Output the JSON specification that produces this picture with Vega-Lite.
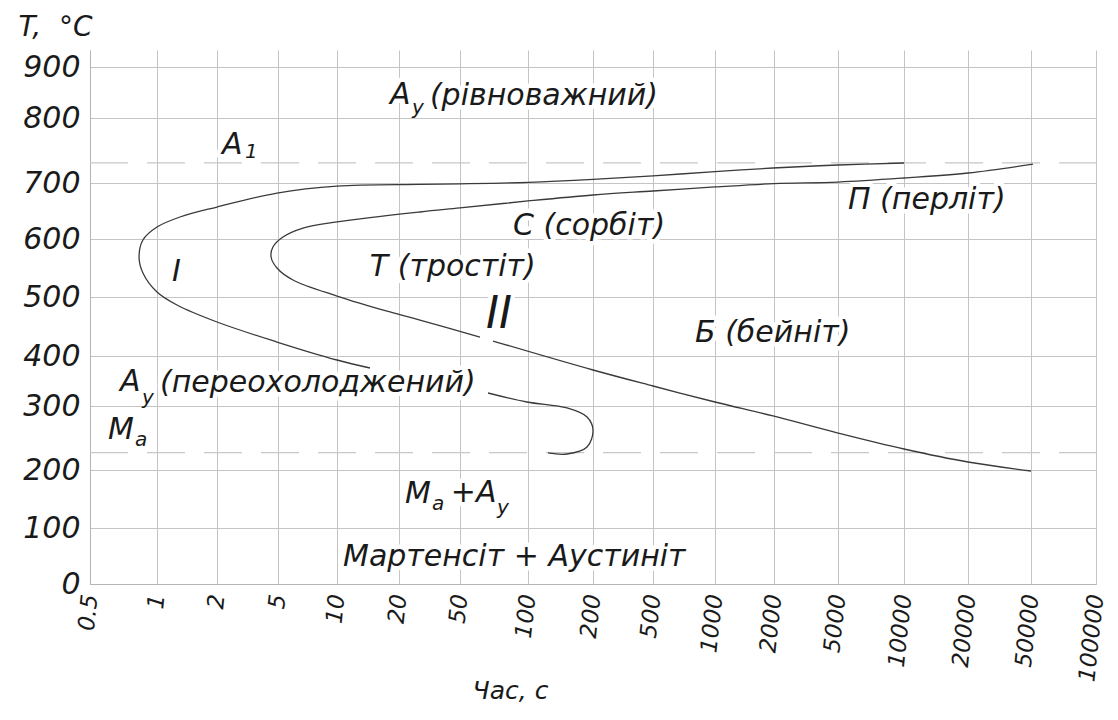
{
  "$schema": "https://vega.github.io/schema/vega-lite/v6.json",
  "width": 1006,
  "height": 534,
  "autosize": {"type": "none"},
  "padding": {"left": 90, "top": 50, "right": 22, "bottom": 136},
  "background": "#ffffff",
  "config": {
    "view": {"stroke": null},
    "font": "'DejaVu Sans', sans-serif",
    "axis": {
      "grid": true,
      "gridColor": "#c4c4c4",
      "gridWidth": 1,
      "domainColor": "#b4b4b4",
      "ticks": false,
      "labelColor": "#1a1a1a",
      "titleColor": "#1a1a1a",
      "labelFont": "'DejaVu Sans', sans-serif",
      "titleFont": "'DejaVu Sans', sans-serif",
      "labelFontStyle": "italic",
      "titleFontStyle": "italic",
      "labelFontWeight": "normal",
      "titleFontWeight": "normal"
    }
  },
  "datasets": {
    "levels": [
      {"name": "A1", "t": 0.5, "T": 731},
      {"name": "A1", "t": 100000, "T": 731},
      {"name": "Ms", "t": 0.5, "T": 227},
      {"name": "Ms", "t": 100000, "T": 227}
    ],
    "curves": [
      {"seg": "Ia", "i": 1, "t": 10000, "T": 730.8},
      {"seg": "Ia", "i": 2, "t": 5000, "T": 727.7},
      {"seg": "Ia", "i": 3, "t": 1983, "T": 723.1},
      {"seg": "Ia", "i": 4, "t": 1000, "T": 717.5},
      {"seg": "Ia", "i": 5, "t": 500, "T": 711},
      {"seg": "Ia", "i": 6, "t": 200, "T": 705.5},
      {"seg": "Ia", "i": 7, "t": 100, "T": 701},
      {"seg": "Ia", "i": 8, "t": 50, "T": 698.5},
      {"seg": "Ia", "i": 9, "t": 30.3, "T": 697.5},
      {"seg": "Ia", "i": 10, "t": 10, "T": 694.6},
      {"seg": "Ia", "i": 11, "t": 4.95, "T": 682.1},
      {"seg": "Ia", "i": 12, "t": 2, "T": 657.1},
      {"seg": "Ia", "i": 13, "t": 1.383, "T": 639.3},
      {"seg": "Ia", "i": 14, "t": 1, "T": 621.4},
      {"seg": "Ia", "i": 15, "t": 0.895, "T": 598.3},
      {"seg": "Ia", "i": 16, "t": 0.866, "T": 569},
      {"seg": "Ia", "i": 17, "t": 0.895, "T": 541.4},
      {"seg": "Ia", "i": 18, "t": 1, "T": 508.6},
      {"seg": "Ia", "i": 19, "t": 1.333, "T": 486.4},
      {"seg": "Ia", "i": 20, "t": 2, "T": 457.6},
      {"seg": "Ia", "i": 21, "t": 4.95, "T": 423.7},
      {"seg": "Ia", "i": 22, "t": 10, "T": 392},
      {"seg": "Ia", "i": 23, "t": 15.32, "T": 376},
      {"seg": "Ib", "i": 24, "t": 70.6, "T": 326},
      {"seg": "Ib", "i": 25, "t": 99.2, "T": 308},
      {"seg": "Ib", "i": 26, "t": 160, "T": 296.9},
      {"seg": "Ib", "i": 27, "t": 190.8, "T": 282.8},
      {"seg": "Ib", "i": 28, "t": 200, "T": 262.5},
      {"seg": "Ib", "i": 29, "t": 190.8, "T": 235.9},
      {"seg": "Ib", "i": 30, "t": 160, "T": 225},
      {"seg": "Ib", "i": 31, "t": 130.8, "T": 226.6},
      {"seg": "IIa", "i": 1, "t": 51538, "T": 729.2},
      {"seg": "IIa", "i": 2, "t": 20000, "T": 715.4},
      {"seg": "IIa", "i": 3, "t": 10000, "T": 707.7},
      {"seg": "IIa", "i": 4, "t": 5000, "T": 701.5},
      {"seg": "IIa", "i": 5, "t": 2000, "T": 699},
      {"seg": "IIa", "i": 6, "t": 1000, "T": 692.9},
      {"seg": "IIa", "i": 7, "t": 500, "T": 685.7},
      {"seg": "IIa", "i": 8, "t": 200, "T": 678.6},
      {"seg": "IIa", "i": 9, "t": 100, "T": 667.9},
      {"seg": "IIa", "i": 10, "t": 50, "T": 655.4},
      {"seg": "IIa", "i": 11, "t": 30.3, "T": 648.2},
      {"seg": "IIa", "i": 12, "t": 10, "T": 630.4},
      {"seg": "IIa", "i": 13, "t": 7.12, "T": 619.6},
      {"seg": "IIa", "i": 14, "t": 5.42, "T": 603.6},
      {"seg": "IIa", "i": 15, "t": 4.75, "T": 586.2},
      {"seg": "IIa", "i": 16, "t": 4.66, "T": 569},
      {"seg": "IIa", "i": 17, "t": 4.95, "T": 550},
      {"seg": "IIa", "i": 18, "t": 6.27, "T": 529.3},
      {"seg": "IIa", "i": 19, "t": 10, "T": 501.7},
      {"seg": "IIa", "i": 20, "t": 18.55, "T": 474.6},
      {"seg": "IIa", "i": 21, "t": 30.3, "T": 461},
      {"seg": "IIa", "i": 22, "t": 64.7, "T": 432.2},
      {"seg": "IIb", "i": 23, "t": 74.3, "T": 425.4},
      {"seg": "IIb", "i": 24, "t": 200, "T": 372},
      {"seg": "IIb", "i": 25, "t": 500, "T": 340},
      {"seg": "IIb", "i": 26, "t": 1000, "T": 308},
      {"seg": "IIb", "i": 27, "t": 1983, "T": 284.4},
      {"seg": "IIb", "i": 28, "t": 5000, "T": 257.8},
      {"seg": "IIb", "i": 29, "t": 10000, "T": 232.8},
      {"seg": "IIb", "i": 30, "t": 20000, "T": 212.5},
      {"seg": "IIb", "i": 31, "t": 50000, "T": 198.3}
    ],
    "labels": [
      {"txt": "А", "t": 18.55, "T": 845},
      {"txt": "(рівноважний)", "t": 35.2, "T": 843},
      {"txt": "А", "t": 2.25, "T": 758},
      {"txt": "I", "t": 1.25, "T": 543},
      {"txt": "Т (тростіт)", "t": 15.3, "T": 552},
      {"txt": "С (сорбіт)", "t": 89, "T": 623},
      {"txt": "П (перліт)", "t": 5758, "T": 670},
      {"txt": "Б (бейніт)", "t": 839, "T": 439},
      {"txt": "А", "t": 0.724, "T": 348},
      {"txt": "(переохолоджений)", "t": 1.05, "T": 346},
      {"txt": "М", "t": 0.634, "T": 262},
      {"txt": "М", "t": 22.95, "T": 159},
      {"txt": "+А", "t": 45.5, "T": 160},
      {"txt": "Мартенсіт + Аустиніт", "t": 10.97, "T": 48}
    ],
    "subs": [
      {"txt": "у", "t": 26.4, "T": 820},
      {"txt": "1", "t": 3.38, "T": 748},
      {"txt": "у", "t": 0.888, "T": 316},
      {"txt": "а", "t": 0.836, "T": 247},
      {"txt": "а", "t": 36.2, "T": 141},
      {"txt": "у", "t": 77.2, "T": 134}
    ],
    "zones": [
      {"txt": "II", "t": 78.7, "T": 470}
    ]
  },
  "encoding": {
    "x": {
      "field": "t",
      "type": "quantitative",
      "scale": {
        "type": "linear",
        "domain": [0.5, 1, 2, 5, 10, 20, 50, 100, 200, 500, 1000, 2000, 5000, 10000, 20000, 50000, 100000],
        "range": [0, 67, 127, 188, 247, 309, 370, 438, 503, 563, 625, 684, 748, 814, 878, 941, 1006],
        "nice": false,
        "zero": false
      },
      "axis": {
        "values": [0.5, 1, 2, 5, 10, 20, 50, 100, 200, 500, 1000, 2000, 5000, 10000, 20000, 50000, 100000],
        "labelExpr": "'' + datum.value",
        "labelAngle": -84,
        "labelAlign": "right",
        "labelBaseline": "middle",
        "labelFontSize": 23,
        "labelPadding": 10,
        "labelOverlap": false,
        "labelFlush": false,
        "labelBound": false,
        "title": "Час, с",
        "titleFontSize": 25,
        "titleX": 420,
        "titleY": 106,
        "titleAlign": "center",
        "titleBaseline": "middle",
        "titleAngle": 0
      }
    },
    "y": {
      "field": "T",
      "type": "quantitative",
      "scale": {
        "type": "linear",
        "domain": [0, 100, 200, 300, 400, 500, 600, 700, 800, 900, 930],
        "range": [534, 478, 420, 356, 306, 247, 189, 133, 68, 17, 0],
        "nice": false,
        "zero": false
      },
      "axis": {
        "values": [0, 100, 200, 300, 400, 500, 600, 700, 800, 900],
        "labelFontSize": 30,
        "labelPadding": 10,
        "labelOverlap": false,
        "labelFlush": false,
        "labelBound": false,
        "title": "T,\u00a0\u00a0°C",
        "titleAngle": 0,
        "titleX": -72,
        "titleY": -23,
        "titleAlign": "left",
        "titleBaseline": "middle",
        "titleFontSize": 28,
        "encode": {
          "labels": {
            "update": {
              "dy": {"signal": "datum.value == 0 ? -14 : datum.value == 100 ? -7 : datum.value == 200 ? -12 : datum.value == 900 ? 4 : 0"}
            }
          }
        }
      }
    }
  },
  "layer": [
    {
      "data": {"name": "levels"},
      "mark": {"type": "line", "color": "#c8c8c8", "strokeWidth": 1.2, "strokeDash": [38, 19]},
      "encoding": {"detail": {"field": "name", "type": "nominal"}}
    },
    {
      "data": {"name": "labels"},
      "mark": {"type": "text", "align": "left", "baseline": "middle", "fontSize": 30, "fontStyle": "italic", "fill": "#ffffff", "stroke": "#ffffff", "strokeWidth": 9, "strokeJoin": "round"},
      "encoding": {"text": {"field": "txt", "type": "nominal"}}
    },
    {
      "data": {"name": "zones"},
      "mark": {"type": "text", "align": "center", "baseline": "middle", "fontSize": 44, "fontStyle": "italic", "fill": "#ffffff", "stroke": "#ffffff", "strokeWidth": 9, "strokeJoin": "round"},
      "encoding": {"text": {"field": "txt", "type": "nominal"}}
    },
    {
      "data": {"name": "curves"},
      "mark": {"type": "line", "interpolate": "catmull-rom", "color": "#3a3a3a", "strokeWidth": 1.3},
      "encoding": {
        "detail": {"field": "seg", "type": "nominal"},
        "order": {"field": "i", "type": "quantitative"}
      }
    },
    {
      "data": {"name": "labels"},
      "mark": {"type": "text", "align": "left", "baseline": "middle", "fontSize": 30, "fontStyle": "italic", "color": "#1a1a1a"},
      "encoding": {"text": {"field": "txt", "type": "nominal"}}
    },
    {
      "data": {"name": "subs"},
      "mark": {"type": "text", "align": "left", "baseline": "middle", "fontSize": 20, "fontStyle": "italic", "color": "#1a1a1a"},
      "encoding": {"text": {"field": "txt", "type": "nominal"}}
    },
    {
      "data": {"name": "zones"},
      "mark": {"type": "text", "align": "center", "baseline": "middle", "fontSize": 44, "fontStyle": "italic", "color": "#1a1a1a"},
      "encoding": {"text": {"field": "txt", "type": "nominal"}}
    }
  ]
}
